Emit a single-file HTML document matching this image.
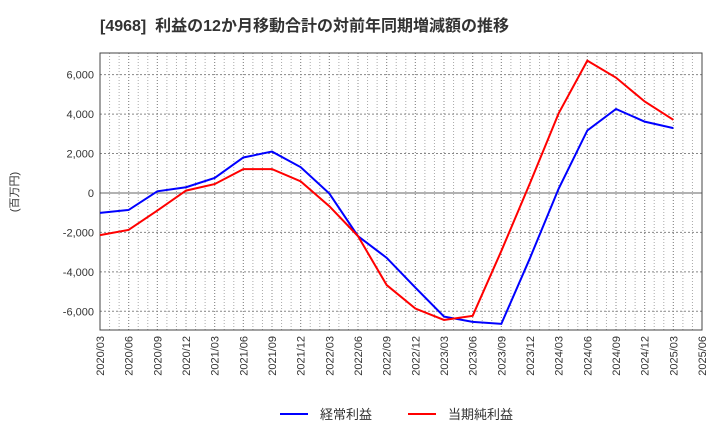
<!DOCTYPE html>
<html><head><meta charset="utf-8"><style>
body{margin:0;background:#fff;font-family:"Liberation Sans","Noto Sans CJK JP",sans-serif;}
svg text{font-family:"Liberation Sans","Noto Sans CJK JP",sans-serif;}
</style></head><body>
<svg id="c" width="720" height="440" xmlns="http://www.w3.org/2000/svg">
<text x="100" y="31" font-size="16" font-weight="bold" fill="#333" xml:space="preserve" style="white-space:pre">[4968]  利益の12か月移動合計の対前年同期増減額の推移</text>
<text transform="translate(18,192) rotate(-90)" font-size="11" text-anchor="middle" fill="#333">(百万円)</text>
<g id="grid"></g><g id="axes"></g><g id="series"></g>
<g>
<line x1="280" y1="414" x2="308" y2="414" stroke="#0000ff" stroke-width="2"/>
<text x="320" y="419" font-size="13" fill="#333">経常利益</text>
<line x1="408" y1="414" x2="436" y2="414" stroke="#ff0000" stroke-width="2"/>
<text x="448" y="419" font-size="13" fill="#333">当期純利益</text>
</g>
</svg>
<script>
const categories=["2020/03","2020/06","2020/09","2020/12","2021/03","2021/06","2021/09","2021/12","2022/03","2022/06","2022/09","2022/12","2023/03","2023/06","2023/09","2023/12","2024/03","2024/06","2024/09","2024/12","2025/03","2025/06"];
const keijo=[-1010,-860,85,290,760,1800,2100,1310,-30,-2190,-3290,-4800,-6270,-6540,-6640,-3300,220,3170,4260,3620,3290];
const junri=[-2140,-1870,-890,120,450,1210,1210,590,-670,-2190,-4670,-5860,-6440,-6230,-2940,500,4040,6710,5850,4640,3710];
const yTicks=[-6000,-4000,-2000,0,2000,4000,6000];
const L=100,R=702,T=53,B=330,yMax=7100,yMin=-6950;
const NS="http://www.w3.org/2000/svg";
const x=i=>L+i*(R-L)/(categories.length-1);
const y=v=>T+(yMax-v)/(yMax-yMin)*(B-T);
function mk(t,a,p){const e=document.createElementNS(NS,t);for(const k in a)e.setAttribute(k,a[k]);p.appendChild(e);return e;}
const grid=document.getElementById('grid'),axes=document.getElementById('axes'),ser=document.getElementById('series');
for(let i=0;i<categories.length-1;i++){for(let k=0;k<3;k++){const xx=x(i)+(k+1)*(x(1)-x(0))/3;
const g=mk('line',{x1:xx,x2:xx,y1:T,y2:B,stroke:'#aaa','stroke-dasharray':'1,2','stroke-width':1},grid);

}}
categories.forEach((c,i)=>{
const g=mk('line',{x1:x(i),x2:x(i),y1:T,y2:B,stroke:'#888','stroke-dasharray':'1,2'},grid);


const t=mk('text',{transform:`translate(${x(i)+4},${B+6}) rotate(-90)`,'font-size':11,'text-anchor':'end',fill:'#333'},axes);
t.textContent=c;


});
yTicks.forEach(v=>{
const g=mk('line',{x1:L,x2:R,y1:y(v),y2:y(v),stroke:v===0?'#666':'#888','stroke-dasharray':v===0?'':'2,2'},grid);


const t=mk('text',{x:L-6,y:y(v)+4,'font-size':11,'text-anchor':'end',fill:'#333'},axes);
t.textContent=v.toLocaleString('en-US');


});
const box=mk('rect',{x:L,y:T,width:R-L,height:B-T,fill:'none',stroke:'#444'},axes);


function line(d,col,name){const p=mk('polyline',{points:d.map((v,i)=>x(i)+','+y(v)).join(' '),fill:'none',stroke:col,'stroke-width':2},ser);

}
line(keijo,'#0000ff','keijo-line');
line(junri,'#ff0000','junri-line');
</script>
</body></html>
